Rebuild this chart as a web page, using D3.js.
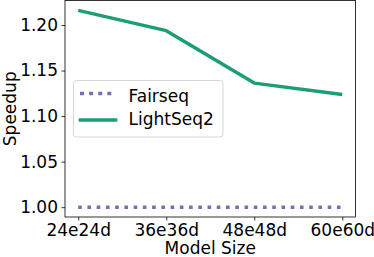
<!DOCTYPE html>
<html><head><meta charset="utf-8">
<script src="https://cdn.jsdelivr.net/npm/d3@7"></script>
<style>body{margin:0;background:#fff}svg{display:block}text{font-family:"DejaVu Sans",sans-serif;fill:#000}</style>
</head><body>
<svg id="c" width="374" height="257"></svg>
<script>
const categories = ["24e24d","36e36d","48e48d","60e60d"];
const fairseq = [1.00,1.00,1.00,1.00];
const lightseq2 = [1.2161,1.1938,1.1362,1.1237];
const yTicks = [1.00,1.05,1.10,1.15,1.20];

const svg = d3.select("#c");
const L=65, R=355.5, T=0.5, B=217;
const x = d3.scaleLinear().domain([-0.15,3.15]).range([L,R]);
const y = d3.scaleLinear().domain([0.9892,1.2269]).range([B,T]);

const line = d3.line().x((d,i)=>x(i)).y(d=>y(d));
svg.append("path").datum(fairseq).attr("d",line).attr("fill","none")
  .attr("stroke","#7570b3").attr("stroke-width",3.5).attr("stroke-dasharray","3.6,5.64");
svg.append("path").datum(lightseq2).attr("d",line).attr("fill","none")
  .attr("stroke","#1b9e77").attr("stroke-width",3.5).attr("stroke-linejoin","round");

const fs = 17;
const xa = svg.append("g").attr("transform",`translate(0,${B})`)
  .call(d3.axisBottom(x).tickValues([0,1,2,3]).tickFormat(i=>categories[i]).tickSize(3.5).tickPadding(3.5));
const ya = svg.append("g").attr("transform",`translate(${L},0)`)
  .call(d3.axisLeft(y).tickValues(yTicks).tickFormat(d3.format(".2f")).tickSize(3.5).tickPadding(3.5));
[xa,ya].forEach(a=>{a.select(".domain").remove();a.selectAll("line").attr("stroke","#000").attr("stroke-width",0.8);a.selectAll("text").attr("font-size",fs).attr("font-family","DejaVu Sans");});

svg.append("rect").attr("x",L).attr("y",T).attr("width",R-L).attr("height",B-T)
  .attr("fill","none").attr("stroke","#000").attr("stroke-width",0.8);

svg.append("text").attr("x",(L+R)/2).attr("y",253.5).attr("text-anchor","middle").attr("font-size",fs).text("Model Size");
svg.append("text").attr("transform",`translate(15.5,${(T+B)/2}) rotate(-90)`).attr("text-anchor","middle").attr("font-size",fs).text("Speedup");

const lg = svg.append("g");
lg.append("rect").attr("x",73.5).attr("y",80.5).attr("width",149.5).attr("height",56.5).attr("rx",3)
  .attr("fill","#fff").attr("fill-opacity",0.8).attr("stroke","#ccc").attr("stroke-width",0.8);
const items=[{n:"Fairseq",c:"#7570b3",d:"4,5.1",x1:80,x2:112,yy:93.5,by:102},{n:"LightSeq2",c:"#1b9e77",d:null,x1:78.7,x2:117.3,yy:120,by:124.7}];
items.forEach(it=>{
  lg.append("line").attr("x1",it.x1).attr("x2",it.x2).attr("y1",it.yy).attr("y2",it.yy)
    .attr("stroke",it.c).attr("stroke-width",3.5).attr("stroke-dasharray",it.d);
  lg.append("text").attr("x",128.5).attr("y",it.by).attr("font-size",fs).text(it.n);
});
</script>
</body></html>
